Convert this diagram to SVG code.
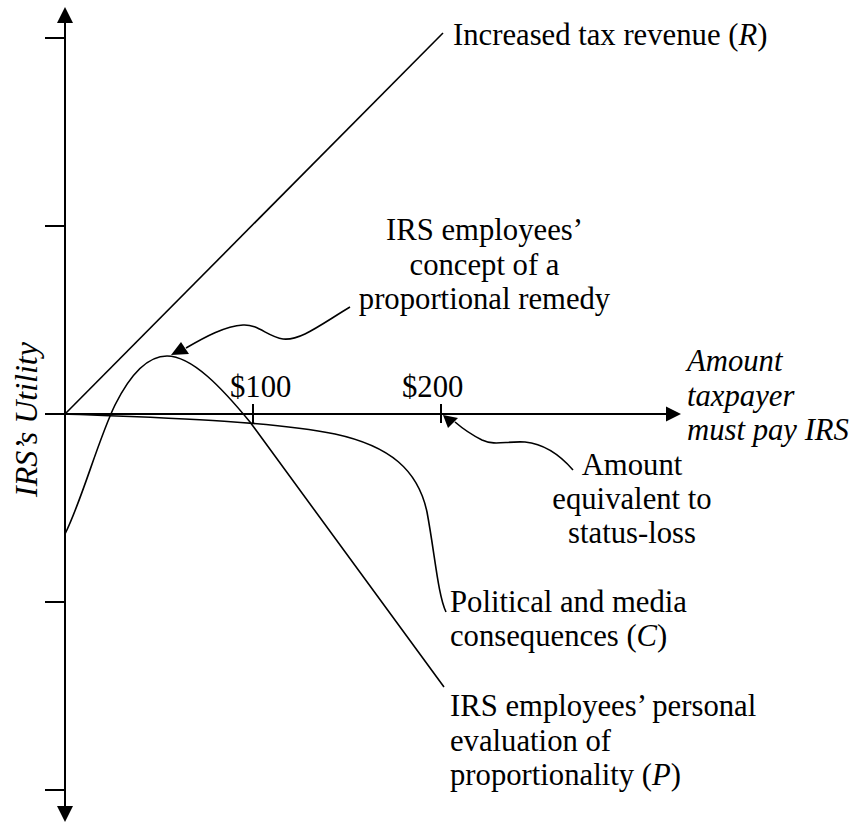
<svg xmlns="http://www.w3.org/2000/svg" width="854" height="824" viewBox="0 0 854 824">
<style>
text{font-family:"Liberation Serif","Times New Roman",serif;font-size:30.7px;fill:#000}
.it{font-style:italic}
.ax{stroke:#000;stroke-width:2;fill:none}
.cv{stroke:#000;stroke-width:1.6;fill:none}
.ah{fill:#000;stroke:none}
.mid{text-anchor:middle}
</style>
<rect width="854" height="824" fill="#fff"/>
<g id="axes">
<line class="ax" x1="65" y1="22" x2="65" y2="808"/>
<polygon class="ah" points="65,7 57,23 73,23"/>
<polygon class="ah" points="65,822 57,806 73,806"/>
<line class="ax" x1="45" y1="414" x2="667" y2="414"/>
<polygon class="ah" points="681,414 666,406.5 666,421.5"/>
<line class="ax" x1="45" y1="38" x2="65" y2="38"/>
<line class="ax" x1="45" y1="226" x2="65" y2="226"/>
<line class="ax" x1="45" y1="602" x2="65" y2="602"/>
<line class="ax" x1="45" y1="790" x2="65" y2="790"/>
<line class="ax" x1="253" y1="404" x2="253" y2="423"/>
<line class="ax" x1="441" y1="404" x2="441" y2="423"/>
<text x="230" y="397">$100</text>
<text x="402" y="397">$200</text>
<text class="it" transform="translate(37,497) rotate(-90)" style="font-size:32px">IRS’s Utility</text>
<text class="it" x="687" y="371">Amount</text>
<text class="it" x="687" y="405.5">taxpayer</text>
<text class="it" x="687" y="440">must pay IRS</text>
</g>
<g id="curves">
<path id="R" class="cv" d="M65,414 L443,33"/>
<path id="P" class="cv" d="M65,534 C82,500 98,440 115,405 C130,375 148,356 167,356 C192,356 222,388 250,422 L444,687"/>
<path id="C" class="cv" d="M65,414 C170,418 270,421 335,434 C390,446 418,470 427,512 C435,555 438,595 446,612"/>
</g>
<g id="callouts">
<path class="cv" d="M350,307 C320,325 300,341 283,339 C268,337 258,324 243,325 C225,326 205,337 186,348"/>
<polygon class="ah" points="171,355 181,342 189,354"/>
<path class="cv" d="M573,470 C560,455 545,444 525,442 C505,441 495,446 482,440 C470,434 462,428 455,422"/>
<polygon class="ah" points="443,415 448,428 458,418"/>
</g>
<g id="label-R"><text x="453" y="45">Increased tax revenue (<tspan class="it">R</tspan>)</text></g>
<g id="label-concept">
<text class="mid" x="484.5" y="240">IRS employees’</text>
<text class="mid" x="484.5" y="274.5">concept of a</text>
<text class="mid" x="484.5" y="309">proportional remedy</text>
</g>
<g id="label-status">
<text class="mid" x="632" y="475">Amount</text>
<text class="mid" x="632" y="509">equivalent to</text>
<text class="mid" x="632" y="543">status-loss</text>
</g>
<g id="label-C">
<text x="450" y="612">Political and media</text>
<text x="450" y="646">consequences (<tspan class="it">C</tspan>)</text>
</g>
<g id="label-P">
<text x="450" y="716">IRS employees’ personal</text>
<text x="450" y="750.5">evaluation of</text>
<text x="450" y="785">proportionality (<tspan class="it">P</tspan>)</text>
</g>
</svg>
